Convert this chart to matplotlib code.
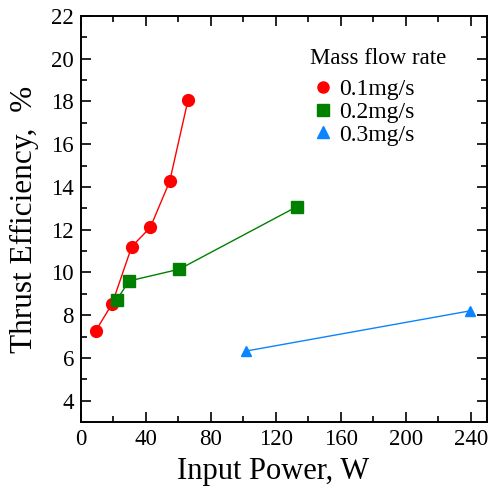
import matplotlib
matplotlib.use("Agg")
import matplotlib.pyplot as plt
from matplotlib.ticker import MultipleLocator
from matplotlib.lines import Line2D

plt.rcParams['font.family'] = ['Liberation Serif', 'DejaVu Serif']
plt.rcParams['mathtext.fontset'] = 'stix'

series_labels = ['0.1mg/s', '0.2mg/s', '0.3mg/s']
power_01 = [9.0, 19.1, 31.2, 42.7, 54.6, 65.9]
eff_01 = [7.26, 8.52, 11.2, 12.11, 14.26, 18.07]
power_02 = [22.0, 29.6, 60.5, 133.0]
eff_02 = [8.71, 9.6, 10.15, 13.08]
power_03 = [101.6, 239.5]
eff_03 = [6.32, 8.2]

fig = plt.figure(figsize=(4.90, 4.87), dpi=100)
ax = fig.add_axes([81/490, 1-422/487, (487-81)/490, (422-16)/487])

ax.plot(power_01, eff_01, '-o', color='#ff0000', lw=1.0, ms=8.5, label=series_labels[0])
ax.plot(power_02, eff_02, '-s', color='#008000', lw=1.0, ms=8.5, label=series_labels[1])
ax.plot(power_03, eff_03, '-^', color='#0a84ff', lw=1.0, ms=7.5, label=series_labels[2])

ax.set_xlim(0, 250)
ax.set_ylim(3, 22)
ax.xaxis.set_major_locator(MultipleLocator(40))
ax.xaxis.set_minor_locator(MultipleLocator(20))
ax.yaxis.set_minor_locator(MultipleLocator(1))
ax.set_yticks([4, 6, 8, 10, 12, 14, 16, 18, 20, 22])
ax.tick_params(which='both', direction='in', top=True, right=True, labelsize=16.5, width=1.2, pad=5)
ax.tick_params(which='major', length=7)
ax.tick_params(which='minor', length=4)
for s in ax.spines.values():
    s.set_linewidth(1.4)

ax.set_xlabel('Input Power, W', fontsize=22, labelpad=3)
ax.xaxis.set_label_coords(0.472, -0.085)
ax.set_ylabel('Thrust Efficiency,  %', fontsize=22.5, labelpad=9)

handles = [Line2D([], [], ls='none', marker='o', color='#ff0000', ms=8),
           Line2D([], [], ls='none', marker='s', color='#008000', ms=8),
           Line2D([], [], ls='none', marker='^', color='#0a84ff', ms=8)]
leg = ax.legend(handles, series_labels, title='Mass flow rate', loc='upper left',
                bbox_to_anchor=(0.523, 0.962), frameon=False, fontsize=17,
                title_fontsize=16.5, handlelength=1.1, handletextpad=0.15,
                labelspacing=0.05, borderpad=0.2)
leg._legend_box.sep = 7
leg._legend_box.align = 'left'

fig.savefig('out.png', dpi=100)
